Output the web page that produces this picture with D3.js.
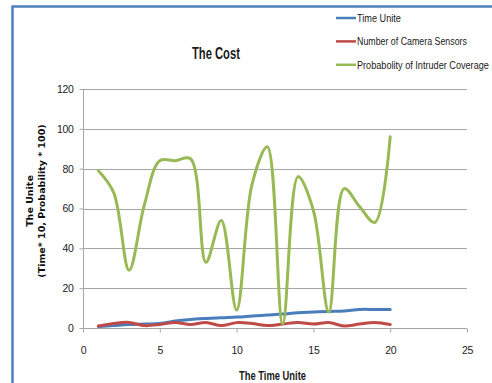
<!DOCTYPE html>
<html><head><meta charset="utf-8">
<script src="https://cdn.jsdelivr.net/npm/d3@7"></script>
<style>
body{margin:0;background:#fff;}
svg{display:block;}
</style></head>
<body>
<svg id="c" width="492" height="383"></svg>
<script>
const xValues = [1,2,3,4,5,6,7,8,9,10,11,12,13,14,15,16,17,18,19,20];
const timeUnite = [0.7,1.2,1.7,2,2.3,3.5,4.3,4.8,5.2,5.5,6,6.5,7,7.7,8,8.3,8.5,9.3,9.3,9.3];
const cameraSensors = [1,2.3,2.8,1.2,1.8,2.8,1.8,2.8,1.2,2.7,2.3,1.2,2,2.8,2,2.8,1,2,2.8,1.8];
const intruderCoverage = [79,68,29,62,84,84,85,33,54,9,72,91,2,76,59,8,70,61,53,96];
const seriesNames = ["Time Unite","Number of Camera Sensors","Probabolity of Intruder Coverage"];
const seriesColors = ["#4a7ebb","#be4b48","#98b954"];
const xTicks = [0,5,10,15,20,25];
const yTicks = [0,20,40,60,80,100,120];

const svg = d3.select("#c");
const font = "'Liberation Sans',Arial,sans-serif";

// frame
svg.append("path").attr("d","M12.5,383 L12.5,6.5 L492,6.5")
  .attr("fill","none").attr("stroke","#4f81bd").attr("stroke-width",2.5);

const x = d3.scaleLinear().domain([0,25]).range([83,467]);
const y = d3.scaleLinear().domain([0,120]).range([328,89]);

// gridlines
svg.append("g").selectAll("line").data(yTicks.filter(d=>d>0)).join("line")
  .attr("x1",x(0)).attr("x2",x(25)).attr("y1",d=>Math.round(y(d))+0.5).attr("y2",d=>Math.round(y(d))+0.5)
  .attr("stroke","#a6a6a6").attr("stroke-width",1);

// axes
const yAxis = svg.append("g").attr("transform",`translate(${x(0)+0.5},0)`)
  .call(d3.axisLeft(y).tickValues(yTicks).tickSize(4).tickPadding(6));
const xAxis = svg.append("g").attr("transform",`translate(0,${Math.round(y(0))+0.5})`)
  .call(d3.axisBottom(x).tickValues(xTicks).tickSize(4).tickPadding(14));
[yAxis,xAxis].forEach(a=>{
  a.selectAll("path,line").attr("stroke","#a6a6a6");
  a.select(".domain").attr("d", a===yAxis ? `M0,${y(120)}V${y(0)}` : `M${x(0)},0H${x(25)}`);
  a.selectAll("text").attr("font-family",font).attr("font-size",10.5).attr("fill","#222")
    .style("letter-spacing","-0.3px");
});

// lines
const line = d3.line().x((d,i)=>x(xValues[i])).y(d=>y(d)).curve(d3.curveCatmullRom.alpha(0.5));
[timeUnite,cameraSensors,intruderCoverage].forEach((s,i)=>{
  svg.append("path").datum(s).attr("d",line).attr("fill","none")
    .attr("stroke",seriesColors[i]).attr("stroke-width",3).attr("stroke-linejoin","round").attr("stroke-linecap","round");
});

// helper: condensed text via horizontal scale
function condensed(g, tx, ty, str, size, weight, targetW){
  const t = g.append("text").attr("font-family",font).attr("font-size",size)
    .attr("font-weight",weight).attr("fill","#1a1a1a").text(str);
  const w = t.node().getComputedTextLength();
  const s = targetW / w;
  t.attr("transform",`translate(${tx},${ty}) scale(${s},1)`);
  return t;
}

// title
condensed(svg, 192, 59, "The Cost", 16, "bold", 48);

// legend
const legendWidths = [44,110,132];
seriesNames.forEach((n,i)=>{
  const yy = 18 + i*23.4;
  svg.append("line").attr("x1",336).attr("x2",356).attr("y1",yy).attr("y2",yy)
    .attr("stroke",seriesColors[i]).attr("stroke-width",2.5);
  condensed(svg, 357, yy+4, n, 11.5, "normal", legendWidths[i]);
});

// axis titles
condensed(svg, 239, 380, "The Time Unite", 13, "bold", 67);
const yt = svg.append("text").attr("transform","translate(0,201) rotate(-90)")
  .attr("text-anchor","middle").attr("font-family","'DejaVu Sans',Verdana,sans-serif")
  .attr("font-weight","bold").attr("font-size",9.5).attr("fill","#111");
yt.append("tspan").attr("x",0).attr("y",33).text("The Unite");
yt.append("tspan").attr("x",0).attr("y",45).text("(Time* 10, Probability * 100)");
</script>
</body></html>
